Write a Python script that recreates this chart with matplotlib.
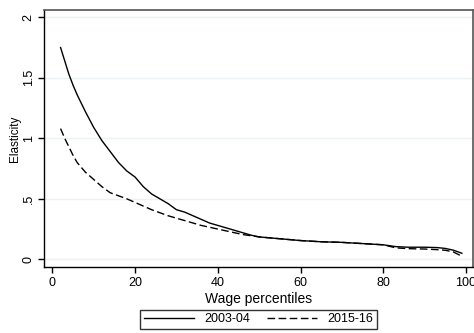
import matplotlib
matplotlib.use("Agg")
import matplotlib.pyplot as plt

plt.rcParams["font.family"] = ["Liberation Sans", "DejaVu Sans"]

# wage percentiles and estimated elasticities
pct_0304 = [2, 3, 4, 5, 6, 8, 10, 12, 14, 16, 18, 20, 22, 24, 26, 28, 30, 32,
            34, 36, 38, 40, 42, 44, 46, 48, 50, 55, 60, 65, 70, 75, 80, 83, 86,
            90, 93, 95, 97, 99]
el_0304 = [1.75, 1.64, 1.53, 1.44, 1.36, 1.22, 1.09, 0.98, 0.89, 0.80, 0.73,
           0.68, 0.60, 0.54, 0.50, 0.46, 0.41, 0.39, 0.36, 0.33, 0.30, 0.28,
           0.26, 0.24, 0.22, 0.20, 0.185, 0.17, 0.155, 0.145, 0.14, 0.13,
           0.12, 0.105, 0.10, 0.10, 0.097, 0.09, 0.075, 0.05]

pct_1516 = pct_0304
el_1516 = [1.08, 1.00, 0.93, 0.86, 0.80, 0.72, 0.66, 0.60, 0.55, 0.525, 0.50,
           0.47, 0.44, 0.41, 0.385, 0.36, 0.34, 0.32, 0.30, 0.28, 0.265, 0.25,
           0.235, 0.22, 0.205, 0.195, 0.185, 0.17, 0.155, 0.145, 0.14, 0.13,
           0.12, 0.095, 0.088, 0.085, 0.08, 0.075, 0.06, 0.025]

labels = ["2003-04", "2015-16"]
xticks = [0, 20, 40, 60, 80, 100]
yticks = [0, 0.5, 1, 1.5, 2]
ytick_labels = ["0", ".5", "1", "1.5", "2"]

fig = plt.figure(figsize=(4.74, 3.33), dpi=100)
ax = fig.add_axes([0.0935, 0.198, 0.9045, 0.772])

for y in yticks:
    ax.axhline(y, color="#eaf2f3", lw=1.0, zorder=0)

ax.plot(pct_0304, el_0304, color="black", lw=1.0, label=labels[0])
ax.plot(pct_1516, el_1516, color="black", lw=1.0, ls=(0, (5.5, 2.5)),
        label=labels[1])

ax.set_xlim(-1.93, 101.7)
ax.set_ylim(-0.064, 2.06)
ax.set_xticks(xticks)
ax.set_yticks(yticks)
ax.set_yticklabels(ytick_labels, rotation=90, va="center")
ax.tick_params(direction="out", length=4, width=1, labelsize=9, pad=3,
               color="black")

for side in ("left", "bottom"):
    ax.spines[side].set_color("black")
    ax.spines[side].set_linewidth(1.0)
for side in ("top", "right"):
    ax.spines[side].set_color("#555555")
    ax.spines[side].set_linewidth(1.2)

ax.set_xlabel("Wage percentiles", fontsize=10, labelpad=2)
ax.set_ylabel("Elasticity", fontsize=8.5, labelpad=1)

leg = fig.legend(loc="center", bbox_to_anchor=(258.5 / 474, 1 - 319.5 / 333),
                 ncol=2, fontsize=9, frameon=True, fancybox=False,
                 edgecolor="black", handlelength=4.0, columnspacing=1.4,
                 borderpad=0.3, handletextpad=0.8)
leg.get_frame().set_linewidth(1.0)

fig.savefig("out.png", dpi=100)
